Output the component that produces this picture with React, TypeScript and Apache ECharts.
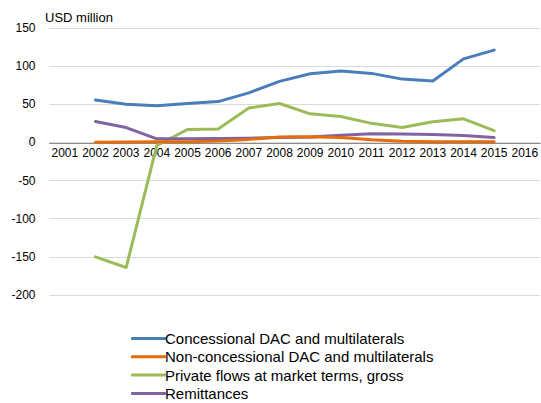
import React, { useEffect, useRef } from "react";
import * as echarts from "echarts";

const years = ["2001", "2002", "2003", "2004", "2005", "2006", "2007", "2008", "2009", "2010", "2011", "2012", "2013", "2014", "2015", "2016"];
const seriesNames = [
  "Concessional DAC and multilaterals",
  "Non-concessional DAC and multilaterals",
  "Private flows at market terms, gross",
  "Remittances",
];
const concessional = [null, 55.5, 50, 48, 51, 53.5, 65, 80, 90, 93.5, 90.5, 83, 80.5, 109.5, 121];
const nonConcessional = [null, 0.3, 0.5, 1, 1, 2, 4, 7, 7.5, 6.5, 3.5, 1.7, 1, 1, 0.8];
const privateFlows = [null, -150, -164, -4, 17, 17.5, 45, 51, 37.5, 34, 25, 19.6, 27, 31, 15.5];
const remittances = [null, 27.5, 19.5, 4.7, 4.8, 5, 5.5, 6.5, 7, 9.5, 11.5, 11, 10.5, 9, 6.5];
const yTicks = { min: -200, max: 150, interval: 50 };
const colors = ["#4A7EBB", "#E46C0A", "#9BBB59", "#8064A2"];

export default function App() {
  const ref = useRef<HTMLDivElement>(null);
  useEffect(() => {
    if (!ref.current) return;
    const chart = echarts.init(ref.current, undefined, { renderer: "svg" });
    const font = "'Liberation Sans', Arial, sans-serif";
    const data = [concessional, nonConcessional, privateFlows, remittances];
    const zs = [2, 5, 3, 4];
    chart.setOption({
      animation: false,
      color: colors,
      textStyle: { fontFamily: font },
      grid: { left: 49.5, right: -4.5, top: 28, bottom: 108, containLabel: false },
      graphic: [
        {
          type: "text",
          left: 45,
          top: 11,
          style: { text: "USD million", fontSize: 13, fill: "#000", fontFamily: font },
        },
      ],
      legend: {
        orient: "vertical",
        left: 126,
        top: 326,
        height: 80,
        padding: [5, 5, 0, 5],
        itemWidth: 35,
        itemHeight: 3,
        itemGap: 3.3,
        icon: "roundRect",
        textStyle: { fontSize: 15, color: "#000", fontFamily: font, padding: [0, 0, 0, -6], lineHeight: 15 },
        data: seriesNames.map((n) => ({ name: n })),
      },
      xAxis: {
        type: "category",
        data: years,
        boundaryGap: true,
        offset: -152,
        axisLine: { onZero: false, lineStyle: { color: "#8c8c8c", width: 1 } },
        axisTick: { show: false },
        axisLabel: { fontSize: 12, color: "#000", margin: 4, interval: 0, fontFamily: font },
        splitLine: { show: false },
      },
      yAxis: {
        type: "value",
        min: yTicks.min,
        max: yTicks.max,
        interval: yTicks.interval,
        axisLine: { show: false },
        axisTick: { show: false },
        axisLabel: { fontSize: 12, color: "#000", margin: 14, fontFamily: font },
        splitLine: { lineStyle: { color: "#d9d9d9", width: 1 } },
      },
      series: seriesNames.map((name, i) => ({
        name,
        type: "line",
        data: data[i],
        z: zs[i],
        showSymbol: false,
        symbol: "none",
        lineStyle: { width: 3, color: colors[i], cap: "round", join: "round" },
        itemStyle: { color: colors[i] },
      })),
    });
    return () => chart.dispose();
  }, []);
  return <div ref={ref} style={{ width: 541, height: 403, position: "absolute", left: 0, top: 0 }} />;
}
